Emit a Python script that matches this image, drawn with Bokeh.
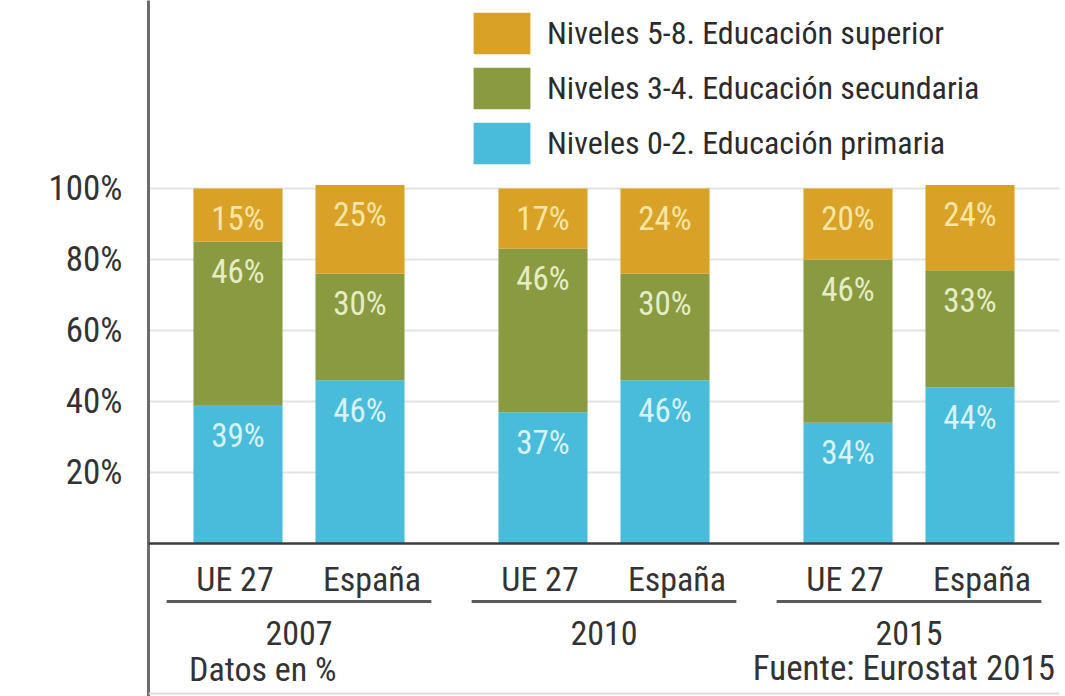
import numpy as np
from bokeh.plotting import figure
from bokeh.models import (FactorRange, Range1d, FixedTicker, ColumnDataSource,
                          Legend, LegendItem, Span)
from bokeh.core.properties import value
from bokeh.embed import file_html
from bokeh.resources import INLINE

# ---------------- data ----------------
years = ["2007", "2010", "2015"]
regions = ["UE 27", "España"]
primaria = [39, 46, 37, 46, 34, 44]
secundaria = [46, 30, 46, 30, 46, 33]
superior = [15, 25, 17, 24, 20, 24]
series_names = ["Niveles 0-2. Educación primaria",
                "Niveles 3-4. Educación secundaria",
                "Niveles 5-8. Educación superior"]
y_ticks = [20, 40, 60, 80, 100]
tick_labels = ["20%", "40%", "60%", "80%", "100%"]
note_left = "Datos en %"
note_right = "Fuente: Eurostat 2015"

# ---------------- style ----------------
FONT = "Roboto Condensed, Liberation Sans Narrow, Roboto, sans-serif"
VFONT = value(FONT)
COLORS = ["#48bcda", "#899a40", "#d9a126"]
LABEL_COLORS = ["#d9f3fa", "#e6edc6", "#fbe6a6"]
TEXT = "#333333"
W, H = 1065, 696
BASE_Y = 543          # pixel row of 0 %
PX_PER_PCT = 3.55
LABEL_DROP = 30 / PX_PER_PCT

factors = [(y, r) for y in years for r in regions]

p = figure(width=W, height=H,
           x_range=FactorRange(*factors, group_padding=0.5, range_padding=0.2336,
                               range_padding_units="absolute"),
           y_range=Range1d(-(H - BASE_Y) / PX_PER_PCT, BASE_Y / PX_PER_PCT),
           output_backend="svg", toolbar_location=None, x_axis_location=None,
           min_border_left=148, min_border_right=6, min_border_top=0,
           min_border_bottom=0)
p.outline_line_color = None
p.background_fill_color = "white"
p.border_fill_color = "white"

# y axis
ax = p.yaxis[0]
ax.ticker = FixedTicker(ticks=y_ticks)
ax.major_label_overrides = {t: l for t, l in zip(y_ticks, tick_labels)}
ax.major_tick_line_color = None
ax.minor_tick_line_color = None
ax.major_tick_out = 0
ax.axis_line_color = "#6b6b6b"
ax.axis_line_width = 3
ax.major_label_standoff = 26
ax.major_label_text_font = FONT
ax.major_label_text_font_size = "35px"
ax.major_label_text_color = TEXT

p.xgrid.grid_line_color = None
p.ygrid.ticker = FixedTicker(ticks=y_ticks)
p.ygrid.grid_line_color = "#e3e3e3"
p.ygrid.grid_line_width = 2

src = ColumnDataSource(dict(x=factors, primaria=primaria,
                            secundaria=secundaria, superior=superior))
rs = p.vbar_stack(["primaria", "secundaria", "superior"], x="x", width=0.73,
                  fill_color=COLORS, line_color=None, source=src)

p.add_layout(Span(location=0, dimension="width", line_color="#3c3c3c",
                  line_width=2.5))
p.add_layout(Span(location=-150 / PX_PER_PCT, dimension="width",
                  line_color="#dcdcdc", line_width=2))

# value labels
prim = np.array(primaria)
sec = np.array(secundaria)
sup = np.array(superior)
tops = [prim, prim + sec, prim + sec + sup]
vals = [prim, sec, sup]
for top, v, c in zip(tops, vals, LABEL_COLORS):
    p.text(x=factors, y=list(top - LABEL_DROP), text=[f"{int(a)}%" for a in v],
           text_align="center", text_baseline="middle", text_font=VFONT,
           text_font_size="33px", text_color=c)

# category labels
for r, off in zip(regions, (-3, 12)):
    fx = [f for f in factors if f[1] == r]
    p.text(x=fx, y=[-35 / PX_PER_PCT] * len(fx), text=[r] * len(fx),
           x_offset=off, text_align="center", text_baseline="middle",
           text_font=VFONT, text_font_size="34px", text_color=TEXT)
# group underlines
p.rect(x=years, y=[-58 / PX_PER_PCT] * len(years), width=2.17, height=3,
       height_units="screen", fill_color="#5a5a5a", line_color=None)
# year labels
p.text(x=years, y=[-89 / PX_PER_PCT] * len(years), text=years,
       text_align="center", text_baseline="middle", text_font=VFONT,
       text_font_size="34px", text_color=TEXT)
# notes
p.text(x=[years[0]], y=[-125 / PX_PER_PCT], text=[note_left], x_offset=-110,
       text_align="left", text_baseline="middle", text_font=VFONT,
       text_font_size="34px", text_color=TEXT)
p.text(x=[years[-1]], y=[-125 / PX_PER_PCT], text=[note_right], x_offset=146,
       text_align="right", text_baseline="middle", text_font=VFONT,
       text_font_size="35px", text_color=TEXT)

# legend (area legend glyphs are inset by 10 % on every side)
legend = Legend(items=[LegendItem(label=series_names[i], renderers=[rs[i]])
                       for i in (2, 1, 0)],
                location=(318, 527),
                orientation="vertical",
                glyph_width=71, glyph_height=52, label_height=52,
                spacing=3, padding=0, margin=0, label_standoff=10,
                label_text_font=FONT, label_text_font_size="32px",
                label_text_color="#2b2b2b", border_line_color=None,
                background_fill_alpha=0)
p.add_layout(legend)

open("out.html", "w").write(file_html(p, INLINE))
